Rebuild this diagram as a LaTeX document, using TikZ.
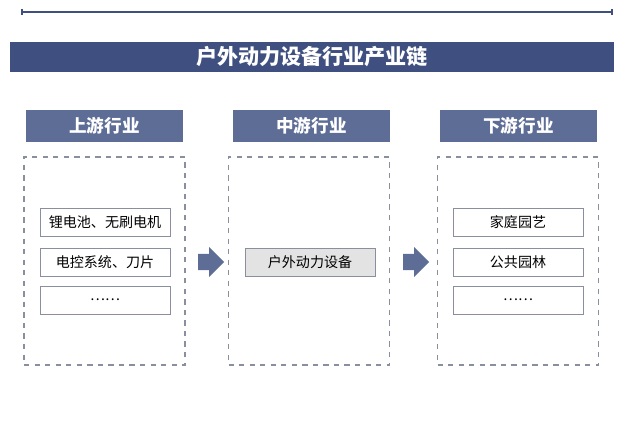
\documentclass[tikz,border=0pt]{standalone}
\usepackage{fontspec}
\setmainfont{Noto Sans CJK SC}
\usetikzlibrary{positioning,calc,shapes.arrows}
\definecolor{navy}{HTML}{3F4F7F}
\definecolor{head}{HTML}{5E6D96}
\definecolor{edge}{HTML}{8A8FA0}
\tikzset{font=\small}

\begin{document}
\begin{tikzpicture}[x=0.02cm,y=-0.02cm,
	head/.style={fill=head, text=white, font=\bfseries\normalsize, minimum width=3.14cm, minimum height=0.64cm, inner sep=0pt},
	frame/.style={draw=edge, dashed, line width=0.6pt, minimum width=3.22cm, minimum height=4.16cm, inner sep=0pt},
	item/.style={draw=edge, fill=white, line width=0.5pt, font=\footnotesize, minimum width=2.6cm, minimum height=0.56cm, inner sep=0pt},
	blockarrow/.style={single arrow, fill=head, minimum height=0.52cm, minimum width=0.6cm, single arrow head extend=0.07cm, inner sep=2.2pt}]
	\useasboundingbox (0,0) rectangle (625,438);
	% top rule
	\coordinate (l1) at (22,12);
	\coordinate (l2) at (612,12);
	\draw[navy, line width=0.8pt] (l1) -- (l2);
	\draw[navy, line width=0.8pt] ($(l1)+(0,-3)$) -- ($(l1)+(0,3)$);
	\draw[navy, line width=0.8pt] ($(l2)+(0,-3)$) -- ($(l2)+(0,3)$);
	% title
	\node[fill=navy, text=white, font=\bfseries\large, minimum width=12.08cm, minimum height=0.6cm, inner sep=0pt] (title) at (312,57) {户外动力设备行业产业链};

	% three stages
	\node[head] (up)  at (104.5,126) {上游行业};
	\node[head] (mid) at (311.5,126) {中游行业};
	\node[head] (down) at (518.5,126) {下游行业};
	\node[frame] (fup)  at (104.5,261) {};
	\node[frame] (fmid) at (309,261) {};
	\node[frame] (fdown) at (518,261) {};

	% items
	\node[item] (u1) at (105,222) {锂电池、无刷电机};
	\node[item] (u2) at (105,262) {电控系统、刀片};
	\node[item] (u3) at (105,300) {……};
	\node[item, fill=gray!22] (m1) at (310,262) {户外动力设备};
	\node[item] (d1) at (518,222) {家庭园艺};
	\node[item] (d2) at (518,262) {公共园林};
	\node[item] (d3) at (518,300) {……};

	% arrows
	\node[blockarrow] (a1) at (207,262) {};
	\node[blockarrow] (a2) at (412,262) {};
\end{tikzpicture}
\end{document}
